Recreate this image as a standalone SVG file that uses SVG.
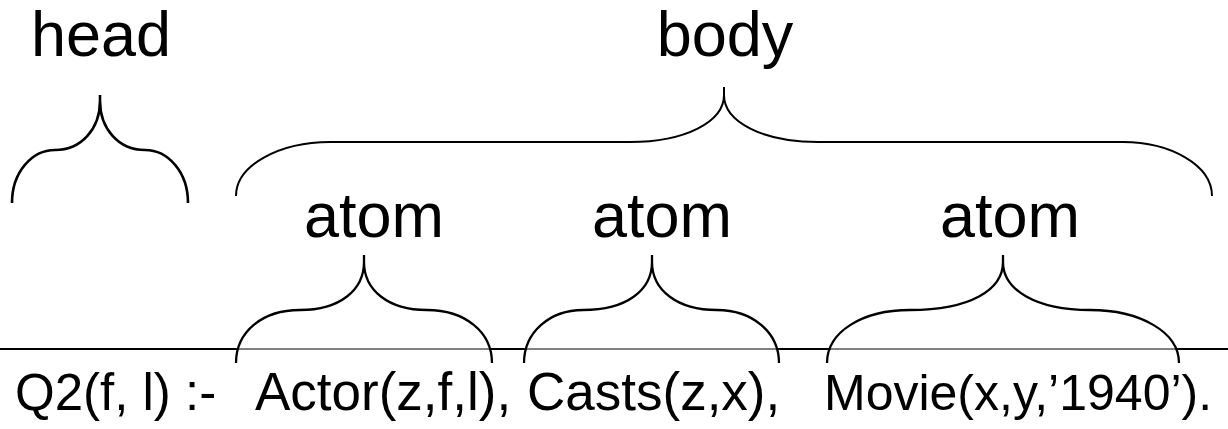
<svg xmlns="http://www.w3.org/2000/svg" width="1228" height="429" viewBox="0 0 1228 429">
<style>
.lbl{font-family:"Liberation Sans",Arial,sans-serif;font-size:63px;fill:#000}
.code{font-family:"Liberation Sans",Arial,sans-serif;font-size:53px;fill:#000}
.br{fill:none;stroke:#000;stroke-linecap:butt;stroke-linejoin:round}
</style>
<rect width="1228" height="429" fill="#fff"/>
<g id="connectors">
<line x1="0" y1="349" x2="1228" y2="349" stroke="#000" stroke-width="2"/>
<line x1="238" y1="349" x2="490" y2="349" stroke="#808080" stroke-width="2"/>
<line x1="526" y1="349" x2="777" y2="349" stroke="#808080" stroke-width="2"/>
<line x1="829" y1="349" x2="1177" y2="349" stroke="#808080" stroke-width="2"/>
</g>
<g id="head">
<text class="lbl" x="31" y="56">head</text>
<path class="br" stroke-width="2.6" d="M12,203 C12,172 32,150 55,150 C82,150 100,128 100,101 L100,95 M100,101 C100,128 118,150 145,150 C168,150 188,172 188,203"/>
</g>
<g id="body">
<text class="lbl" x="725" y="56" text-anchor="middle">body</text>
<path class="br" stroke-width="2" d="M236,196 C236,165 280,142 330,142 L630,142 C685,142 724,122 724,95 L724,87 M724,95 C724,122 763,142 818,142 L1123,142 C1170,142 1212,165 1212,196"/>
</g>
<g id="atom1">
<text class="lbl" x="304" y="237">atom</text>
<path class="br" stroke-width="2.3" d="M236,363 C236,332 262,310 300,310 C340,310 364,290 364,262 L364,255 M364,262 C364,290 388,310 427,310 C465,310 492,332 492,363"/>
</g>
<g id="atom2">
<text class="lbl" x="592" y="237">atom</text>
<path class="br" stroke-width="2.3" d="M524,363 C524,332 550,310 583,310 C627,310 652,290 652,262 L652,255 M652,262 C652,290 677,310 717,310 C752,310 779,332 779,363"/>
</g>
<g id="atom3">
<text class="lbl" x="940" y="237">atom</text>
<path class="br" stroke-width="2.3" d="M827,363 C827,332 862,310 910,310 C970,310 1003,290 1003,262 L1003,255 M1003,262 C1003,290 1036,310 1090,310 C1140,310 1179,332 1179,363"/>
</g>
<g id="query">
<text class="code" x="15" y="410" style="font-size:51px">Q2(f, l) :-</text>
<text class="code" x="255" y="410">Actor(z,f,l),</text>
<text class="code" x="527" y="410">Casts(z,x),</text>
<text class="code" x="824" y="410" style="font-size:50px">Movie(x,y,’1940’).</text>
</g>
</svg>
